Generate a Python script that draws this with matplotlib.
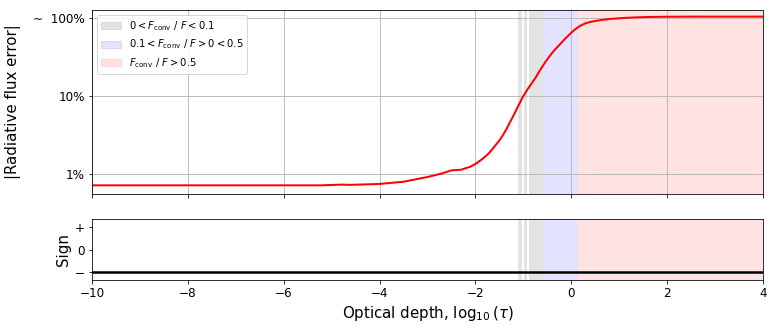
import numpy as np
import matplotlib
matplotlib.use('Agg')
import matplotlib.pyplot as plt
from matplotlib.patches import Patch

# log10(tau) and |radiative flux error| (fraction)
log_tau = [-10, -8, -6, -5.2, -4.8, -4.6, -4.0, -3.5, -3.0, -2.7, -2.5, -2.3, -2.1,
           -2.0, -1.85, -1.72, -1.63, -1.5, -1.42, -1.35, -1.28, -1.2, -1.1, -1.0,
           -0.9, -0.75, -0.63, -0.51, -0.38, -0.25, -0.13, -0.03, 0.05, 0.18, 0.3,
           0.4, 0.53, 0.65, 0.8, 1.0, 1.22, 1.5, 1.9, 2.5, 4.0]
flux_err = [0.0072, 0.0072, 0.0072, 0.0072, 0.00735, 0.0073, 0.0075, 0.0080, 0.0092,
            0.0102, 0.0112, 0.0114, 0.0125, 0.0135, 0.0157, 0.0185, 0.0215, 0.027,
            0.032, 0.038, 0.046, 0.057, 0.076, 0.10, 0.125, 0.17, 0.225, 0.29, 0.37,
            0.45, 0.54, 0.62, 0.69, 0.79, 0.855, 0.89, 0.92, 0.945, 0.97, 0.99,
            1.01, 1.025, 1.035, 1.04, 1.04]
sign = [-1, -1]
sign_x = [-10, 4]

# convective flux fraction regions (log10 tau)
gray_regions = [(-1.118, -1.035), (-0.987, -0.918), (-0.889, -0.597)]
blue_regions = [(-0.597, 0.134)]
red_regions = [(0.134, 4.0)]

fig = plt.figure(figsize=(773 / 72, 328 / 72), dpi=72)
ax1 = fig.add_axes([0.119, 0.409, 0.868, 0.561])
ax2 = fig.add_axes([0.119, 0.146, 0.868, 0.186], sharex=ax1)

for ax in (ax1, ax2):
    for a, b in gray_regions:
        ax.axvspan(a, b, color='gray', alpha=0.22, lw=0)
    for a, b in blue_regions:
        ax.axvspan(a, b, color='blue', alpha=0.11, lw=0)
    for a, b in red_regions:
        ax.axvspan(a, b, color='red', alpha=0.11, lw=0)

ax1.plot(log_tau, flux_err, 'r-', lw=2)
ax1.set_yscale('log')
ax1.set_ylim(0.0056, 1.27)
ax1.set_xlim(-10, 4)
ax1.set_yticks([0.01, 0.1, 1])
ax1.set_yticklabels(['1%', '10%', '~  100%'])
ax1.minorticks_off()
ax1.grid(True, color='#b0b0b0', lw=0.8)
ax1.tick_params(labelsize=12, labelbottom=False)
ax1.set_ylabel('|Radiative flux error|', fontsize=15, labelpad=12)

handles = [Patch(color='gray', alpha=0.22),
           Patch(color='blue', alpha=0.11),
           Patch(color='red', alpha=0.11)]
labels = [r'$0 < F_\mathrm{conv}\ /\ F < 0.1$',
          r'$0.1 < F_\mathrm{conv}\ /\ F > 0 < 0.5$',
          r'$F_\mathrm{conv}\ /\ F > 0.5$']
ax1.legend(handles, labels, loc='upper left', fontsize=10)

ax2.plot(sign_x, sign, 'k-', lw=2.5)
ax2.set_ylim(-1.36, 1.36)
ax2.set_yticks([1, 0, -1])
ax2.set_yticklabels(['+', '0', '\u2212'])
ax2.tick_params(labelsize=12)
ax2.set_xticks([-10, -8, -6, -4, -2, 0, 2, 4])
ax2.set_ylabel('Sign', fontsize=15)
ax2.set_xlabel(r'Optical depth, $\log_{10}(\tau)$', fontsize=15)

fig.savefig('out.png', dpi=72)
